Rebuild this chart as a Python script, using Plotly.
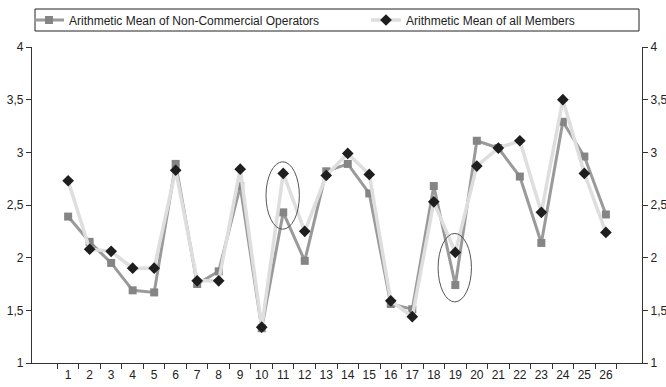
import plotly.graph_objects as go

categories = [str(i) for i in range(1, 27)]
non_commercial = [2.39, 2.15, 1.95, 1.69, 1.67, 2.89, 1.75, 1.87, 2.68, 1.33,
                  2.43, 1.97, 2.82, 2.89, 2.61, 1.56, 1.51, 2.68, 1.74, 3.11,
                  3.04, 2.77, 2.14, 3.29, 2.96, 2.41]
all_members = [2.73, 2.08, 2.06, 1.90, 1.90, 2.83, 1.78, 1.78, 2.84, 1.34,
               2.80, 2.25, 2.78, 2.99, 2.79, 1.59, 1.44, 2.53, 2.05, 2.87,
               3.04, 3.11, 2.43, 3.50, 2.80, 2.24]
y_ticks = [1, 1.5, 2, 2.5, 3, 3.5, 4]
# highlighted points (category index, y-low, y-high)
highlights = [(10, 2.27, 2.91), (18, 1.58, 2.23)]

FONT = "Liberation Sans, Arial, sans-serif"

fig = go.Figure()
fig.add_trace(go.Scatter(
    x=categories, y=non_commercial, mode="lines+markers",
    name="Arithmetic Mean of Non-Commercial Operators", legend="legend",
    line=dict(color="#9a9a9a", width=3),
    marker=dict(symbol="square", size=8, color="#858585"),
))
fig.add_trace(go.Scatter(
    x=categories, y=all_members, mode="lines+markers",
    name="Arithmetic Mean of all Members", legend="legend2",
    line=dict(color="#dedede", width=3.5),
    marker=dict(symbol="diamond", size=9, color="#1e1e1e"),
))
# invisible trace to realise the right-hand axis
fig.add_trace(go.Scatter(
    x=categories, y=all_members, yaxis="y2", mode="lines",
    line=dict(width=0, color="rgba(0,0,0,0)"), showlegend=False, hoverinfo="skip",
))

for idx, ylo, yhi in highlights:
    fig.add_shape(type="circle", xref="x", yref="y",
                  x0=idx - 0.8, x1=idx + 0.75, y0=ylo, y1=yhi,
                  line=dict(color="#555555", width=1))

# legend frame
fig.add_shape(type="rect", xref="paper", yref="paper",
              x0=(35 - 32) / 610, x1=(639 - 32) / 610,
              y0=(363 - 31) / 316, y1=(363 - 9) / 316,
              line=dict(color="#222222", width=1), fillcolor="rgba(0,0,0,0)")

axis_common = dict(showgrid=False, zeroline=False, showline=True,
                   linecolor="#333333", linewidth=1.2,
                   ticks="outside", ticklen=5, tickcolor="#333333",
                   tickfont=dict(size=12, color="#222222", family=FONT))

legend_common = dict(orientation="h", xanchor="left",
                     y=(363 - 20) / 316, yanchor="middle",
                     bgcolor="rgba(0,0,0,0)", borderwidth=0, itemwidth=30,
                     font=dict(size=12, family=FONT, color="#222222"))

fig.update_layout(
    width=666, height=387,
    margin=dict(l=32, r=24, t=47, b=24, autoexpand=False),
    paper_bgcolor="white", plot_bgcolor="white",
    separators=", ",
    font=dict(family=FONT, size=12, color="#222222"),
    showlegend=True,
    legend=dict(x=(29 - 32) / 610, **legend_common),
    legend2=dict(x=(366 - 32) / 610, **legend_common),
    xaxis=dict(type="category", tickson="boundaries", tickangle=0, **axis_common),
    yaxis=dict(range=[1, 4], tickvals=y_ticks, **axis_common),
    yaxis2=dict(range=[1, 4], tickvals=y_ticks, overlaying="y", side="right",
                **axis_common),
)

fig.write_html("out.html", config={"displayModeBar": False},
               post_script="document.body.style.margin='0';")
